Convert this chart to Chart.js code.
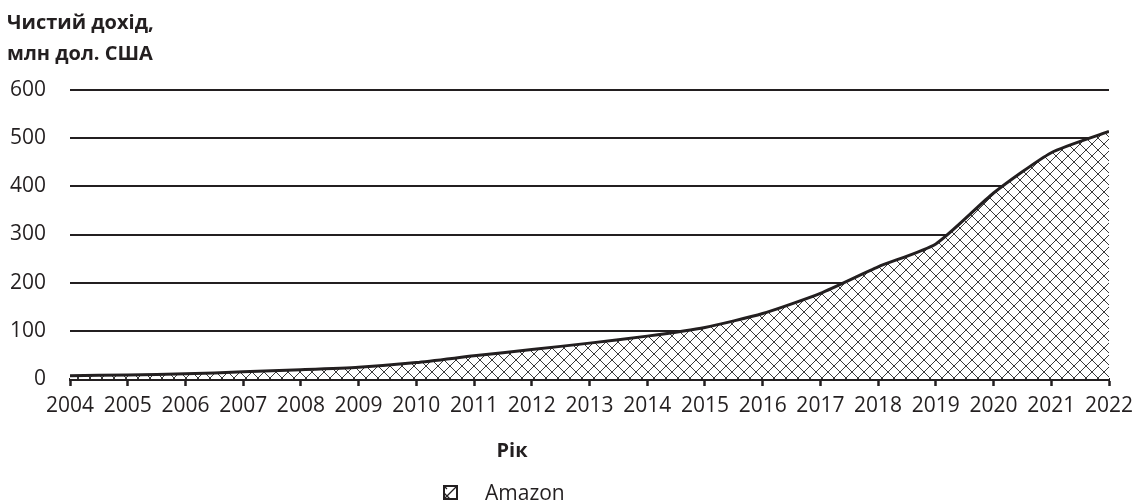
<!DOCTYPE html>
<html>
<head>
<meta charset="utf-8">
<script src="https://cdn.jsdelivr.net/npm/chart.js@4.4.1/dist/chart.umd.min.js"></script>
<style>
  html, body { margin: 0; padding: 0; background: #ffffff; }
  #wrap { position: relative; width: 1147px; height: 504px; overflow: hidden; }
  #c { position: absolute; left: 0; top: 0; }
  .txt { position: absolute; color: #231f20; font-family: 'Open Sans', 'Noto Sans', sans-serif; white-space: nowrap; }
  #ytitle { left: 7px; top: 6px; font-size: 20px; font-weight: bold; line-height: 31px; }
  #xtitle { left: 462px; top: 435px; width: 100px; text-align: center; font-size: 20px; font-weight: bold; line-height: 30px; }
  #legend { left: 443px; top: 477px; height: 30px; font-size: 21px; line-height: 30px; display: flex; align-items: center; }
  #legIcon { width: 15px; height: 15px; margin-right: 27px; margin-top: 1px; }
</style>
</head>
<body>
<div id="wrap">
  <canvas id="c" width="1147" height="504"></canvas>
  <div id="ytitle" class="txt">Чистий дохід,<br>млн дол. США</div>
  <div id="xtitle" class="txt">Рік</div>
  <div id="legend" class="txt"><canvas id="legIcon" width="15" height="15"></canvas><span>Amazon</span></div>
</div>
<script>
// ---- data ----
const years = [2004, 2005, 2006, 2007, 2008, 2009, 2010, 2011, 2012, 2013, 2014, 2015, 2016, 2017, 2018, 2019, 2020, 2021, 2022];
const amazonRevenue = [6.9, 8.5, 10.7, 14.8, 19.2, 24.5, 34.2, 48.1, 61.1, 74.5, 89.0, 107.0, 136.0, 177.9, 232.9, 280.5, 386.1, 469.8, 514.0];
const yTickValues = [0, 100, 200, 300, 400, 500, 600];
const seriesName = 'Amazon';

const INK = '#231f20';

function makeHatch(size, color, bg) {
  const p = document.createElement('canvas');
  p.width = size; p.height = size;
  const g = p.getContext('2d');
  g.fillStyle = bg;
  g.fillRect(0, 0, size, size);
  g.strokeStyle = color;
  g.lineWidth = 1;
  g.beginPath();
  for (const k of [-size, 0, size]) {
    g.moveTo(k, 0); g.lineTo(k + size, size);
    g.moveTo(k, size); g.lineTo(k + size, 0);
  }
  g.stroke();
  return g.createPattern(p, 'repeat');
}

const ctx = document.getElementById('c').getContext('2d');
const hatch = makeHatch(12, '#3a3a3a', '#ffffff');

// legend icon
(function () {
  const ic = document.getElementById('legIcon');
  const g = ic.getContext('2d');
  g.fillStyle = '#fff'; g.fillRect(0, 0, 15, 15);
  g.strokeStyle = INK; g.lineWidth = 1.3;
  g.beginPath();
  g.moveTo(1, 14); g.lineTo(14, 1);
  g.moveTo(1, 8); g.lineTo(7, 14);
  g.moveTo(1, 1); g.lineTo(4, 4);
  g.stroke();
  g.lineWidth = 2;
  g.strokeRect(1, 1, 13, 13);
})();

const areaPoints = years.map((y, i) => ({ x: y, y: amazonRevenue[i] }));
const lastYear = years[years.length - 1];
const lastVal = amazonRevenue[amazonRevenue.length - 1];
const edgePoints = [{ x: lastYear, y: 0 }, { x: lastYear, y: lastVal }];

new Chart(ctx, {
  type: 'line',
  data: {
    datasets: [
      {
        label: seriesName,
        data: areaPoints,
        fill: 'origin',
        backgroundColor: hatch,
        borderColor: INK,
        borderWidth: 3,
        pointRadius: 0,
        tension: 0.2
      },
      {
        label: 'edge',
        data: edgePoints,
        fill: false,
        borderColor: INK,
        borderWidth: 3,
        pointRadius: 0
      }
    ]
  },
  options: {
    responsive: false,
    animation: false,
    events: [],
    layout: { padding: { top: 90, right: 38, left: 0, bottom: 0 } },
    plugins: { legend: { display: false }, tooltip: { enabled: false } },
    scales: {
      x: {
        type: 'linear',
        min: years[0],
        max: lastYear,
        z: 1,
        afterFit: (s) => { s.height = 125; },
        afterBuildTicks: (s) => { s.ticks = years.map(v => ({ value: v })); },
        ticks: {
          stepSize: 1,
          autoSkip: false,
          maxRotation: 0,
          callback: (v) => String(v),
          color: INK,
          font: { family: "'Open Sans', 'Noto Sans', sans-serif", size: 21 },
          padding: 7
        },
        grid: {
          display: true,
          drawOnChartArea: false,
          drawTicks: true,
          tickLength: 7,
          tickColor: INK,
          tickWidth: 2.5
        },
        border: { display: true, color: INK, width: 3 }
      },
      y: {
        min: 0,
        max: 600,
        afterFit: (s) => { s.width = 70; },
        afterBuildTicks: (s) => { s.ticks = yTickValues.map(v => ({ value: v })); },
        ticks: {
          color: INK,
          font: { family: "'Open Sans', 'Noto Sans', sans-serif", size: 21 },
          padding: 24
        },
        grid: {
          color: (c) => (c.tick && c.tick.value === 0 ? 'rgba(0,0,0,0)' : INK),
          lineWidth: 2,
          drawTicks: false
        },
        border: { display: false }
      }
    }
  }
});
</script>
</body>
</html>
